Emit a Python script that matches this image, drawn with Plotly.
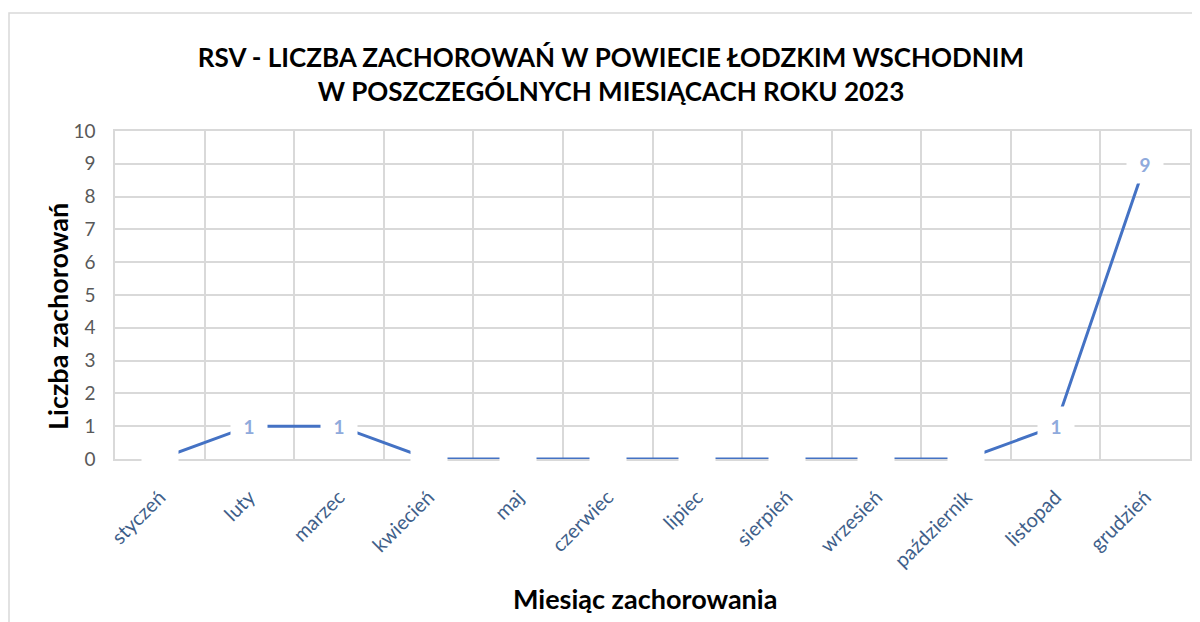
import plotly.graph_objects as go

months = ["styczeń", "luty", "marzec", "kwiecień", "maj", "czerwiec", "lipiec",
          "sierpień", "wrzesień", "październik", "listopad", "grudzień"]
cases = [0, 1, 1, 0, 0, 0, 0, 0, 0, 0, 1, 9]
y_ticks = list(range(0, 11))

title_text = "RSV - LICZBA ZACHOROWAŃ W POWIECIE ŁODZKIM WSCHODNIM<br>W POSZCZEGÓLNYCH MIESIĄCACH ROKU 2023"
x_title = "Miesiąc zachorowania"
y_title = "Liczba zachorowań"

FONT = "Lato"
# the page body has an 8px margin; positions below are in figure pixels
OFF = 8
W, H = 1192, 614
L, T = 115 - OFF, 131 - OFF
R = W - (1190 - OFF)
B = H - (459 - OFF)
PW = W - L - R
PH = H - T - B

fig = go.Figure()
fig.add_trace(go.Scatter(
    x=months, y=cases, mode="lines",
    line=dict(color="#4472C4", width=3),
    hoverinfo="x+y", showlegend=False,
))

# data labels (white boxes, like Excel)
for m, v in zip(months, cases):
    fig.add_annotation(
        x=m, y=v, xref="x", yref="y",
        text=str(v) if v else " ",
        showarrow=False,
        bgcolor="white",
        width=34, height=36,
        font=dict(family=FONT, size=19, color="#8FAADC", weight="bold"),
        xanchor="center", yanchor="middle",
    )

# axis titles
fig.add_annotation(
    x=(57 - OFF - L) / PW, y=(T + PH - (317 - OFF)) / PH, xref="paper", yref="paper",
    text=y_title, textangle=-90, showarrow=False,
    font=dict(family=FONT, size=27, color="#000000", weight="bold"),
    xanchor="center", yanchor="middle",
)
fig.add_annotation(
    x=(645 - OFF - L) / PW, y=(T + PH - (598 - OFF)) / PH, xref="paper", yref="paper",
    text=x_title, showarrow=False,
    font=dict(family=FONT, size=27, color="#000000", weight="bold"),
    xanchor="center", yanchor="middle",
)

# outer chart border
fig.add_shape(
    type="rect", xref="paper", yref="paper",
    x0=(8 - OFF - L + 1) / PW, x1=(1214 - OFF - L) / PW,
    y0=(T + PH - 640) / PH, y1=(T + PH - (13 - OFF)) / PH,
    line=dict(color="#D9D9D9", width=1.5), fillcolor="rgba(0,0,0,0)",
    layer="below",
)

fig.update_layout(
    width=W, height=H,
    margin=dict(l=L, r=R, t=T, b=B, autoexpand=False),
    paper_bgcolor="white", plot_bgcolor="white",
    title=dict(
        text=title_text, x=(611 - OFF) / W, xref="container", xanchor="center",
        y=1 - (67 - OFF) / H, yref="container", yanchor="middle",
        font=dict(family=FONT, size=26, color="#000000", weight="bold"),
    ),
    xaxis=dict(
        type="category", tickson="boundaries",
        showgrid=True, gridcolor="#D9D9D9", gridwidth=1.5,
        showline=True, linecolor="#D9D9D9", linewidth=1.5, mirror=True,
        ticks="", tickangle=-45,
        tickfont=dict(family=FONT, size=20, color="#3F5F8A"),
        ticklabelstandoff=17,
        range=[-0.5, 11.5], zeroline=False,
    ),
    yaxis=dict(
        range=[0, 10], tickvals=y_ticks, ticktext=[str(t) for t in y_ticks],
        showgrid=True, gridcolor="#D9D9D9", gridwidth=1.5,
        showline=True, linecolor="#D9D9D9", linewidth=1.5, mirror=True,
        zeroline=False, ticks="",
        tickfont=dict(family=FONT, size=19, color="#595959"),
        ticklabelstandoff=14,
    ),
)

fig.write_html("out.html")
